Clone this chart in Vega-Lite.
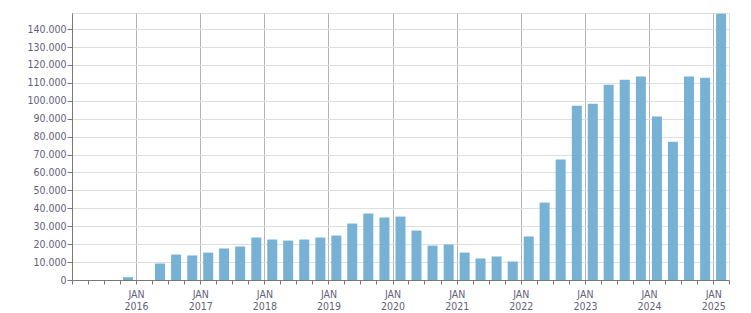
{
  "$schema": "https://vega.github.io/schema/vega-lite/v6.json",
  "width": 657,
  "height": 267,
  "autosize": "none",
  "padding": {"left": 72, "top": 13, "right": 22, "bottom": 33},
  "background": "#ffffff",
  "config": {
    "view": {"stroke": "#dddddd", "strokeWidth": 1},
    "locale": {"number": {"decimal": ",", "thousands": ".", "grouping": [3], "currency": ["", " €"]}},
    "axis": {
      "labelFont": "DejaVu Sans Condensed",
      "labelFontSize": 10.5,
      "labelColor": "#62627a",
      "domainColor": "#7a7a7a",
      "tickColor": "#7a7a7a",
      "title": null
    }
  },
  "data": {
    "values": [
      {"quarter": "2015-10-01", "value": 1600},
      {"quarter": "2016-04-01", "value": 9200},
      {"quarter": "2016-07-01", "value": 14200},
      {"quarter": "2016-10-01", "value": 13700},
      {"quarter": "2017-01-01", "value": 15300},
      {"quarter": "2017-04-01", "value": 17600},
      {"quarter": "2017-07-01", "value": 18700},
      {"quarter": "2017-10-01", "value": 23700},
      {"quarter": "2018-01-01", "value": 22600},
      {"quarter": "2018-04-01", "value": 22000},
      {"quarter": "2018-07-01", "value": 22600},
      {"quarter": "2018-10-01", "value": 23700},
      {"quarter": "2019-01-01", "value": 24800},
      {"quarter": "2019-04-01", "value": 31500},
      {"quarter": "2019-07-01", "value": 37100},
      {"quarter": "2019-10-01", "value": 34900},
      {"quarter": "2020-01-01", "value": 35400},
      {"quarter": "2020-04-01", "value": 27600},
      {"quarter": "2020-07-01", "value": 19200},
      {"quarter": "2020-10-01", "value": 19800},
      {"quarter": "2021-01-01", "value": 15300},
      {"quarter": "2021-04-01", "value": 12000},
      {"quarter": "2021-07-01", "value": 13100},
      {"quarter": "2021-10-01", "value": 10300},
      {"quarter": "2022-01-01", "value": 24300},
      {"quarter": "2022-04-01", "value": 43200},
      {"quarter": "2022-07-01", "value": 67200},
      {"quarter": "2022-10-01", "value": 97300},
      {"quarter": "2023-01-01", "value": 98400},
      {"quarter": "2023-04-01", "value": 109000},
      {"quarter": "2023-07-01", "value": 111800},
      {"quarter": "2023-10-01", "value": 113500},
      {"quarter": "2024-01-01", "value": 91200},
      {"quarter": "2024-04-01", "value": 77200},
      {"quarter": "2024-07-01", "value": 113500},
      {"quarter": "2024-10-01", "value": 112900},
      {"quarter": "2025-01-01", "value": 148600}
    ]
  },
  "mark": {"type": "bar", "color": "#77b2d5", "width": 10},
  "encoding": {
    "x": {
      "field": "quarter",
      "type": "temporal",
      "timeUnit": "utcyearquarter",
      "bandPosition": 0.52,
      "scale": {
        "type": "utc",
        "domain": [
          {"year": 2015, "month": 1, "date": 1, "utc": true},
          {"year": 2025, "month": 4, "date": 1, "utc": true}
        ]
      },
      "axis": {
        "tickCount": {"interval": "month", "step": 3},
        "tickSize": 4,
        "grid": true,
        "gridColor": "#b4b4b4",
        "gridOpacity": {"condition": {"test": "utcmonth(datum.value) == 0", "value": 1}, "value": 0},
        "labelExpr": "utcmonth(datum.value) == 0 && utcyear(datum.value) > 2015 ? ['JAN', utcFormat(datum.value, '%Y')] : ''",
        "labelOverlap": false,
        "labelFlush": false,
        "labelPadding": 5,
        "labelLineHeight": 12.5,
        "labelAlign": "center"
      }
    },
    "y": {
      "field": "value",
      "type": "quantitative",
      "scale": {"domain": [0, 149000], "nice": false},
      "axis": {
        "values": [0, 10000, 20000, 30000, 40000, 50000, 60000, 70000, 80000, 90000, 100000, 110000, 120000, 130000, 140000],
        "format": ",.0f",
        "tickSize": 5,
        "labelPadding": 1,
        "gridColor": "#dedede"
      }
    }
  }
}
